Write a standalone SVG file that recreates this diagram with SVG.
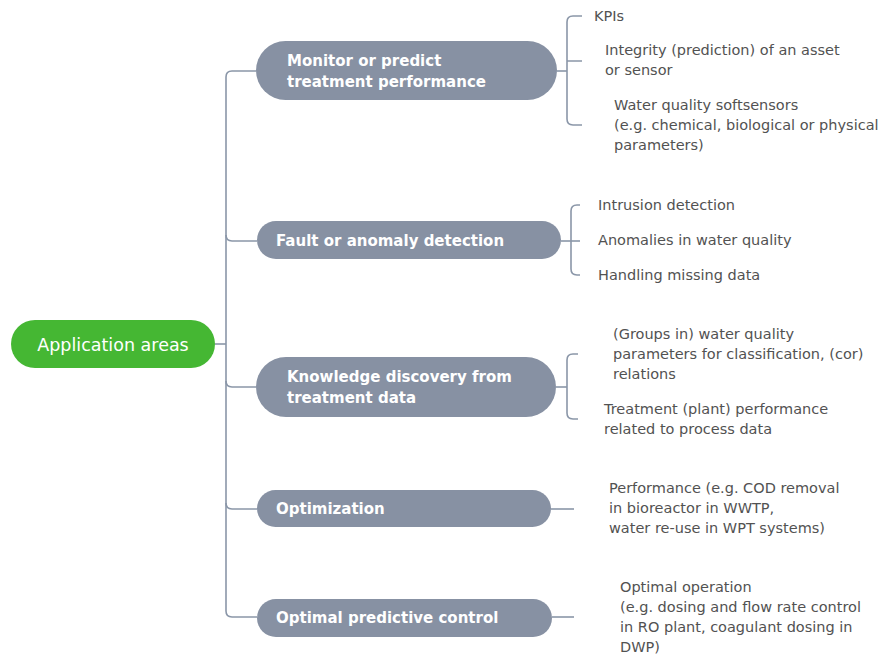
<svg xmlns="http://www.w3.org/2000/svg" width="881" height="657" viewBox="0 0 881 657">
<style>
.ln{fill:none;stroke:#8a96a8;stroke-width:1.6}
.br{fill:#8791a3}
.bt{font-family:"DejaVu Sans",Verdana,sans-serif;font-weight:bold;font-size:15px;fill:#fff}
.lt{font-family:"DejaVu Sans",Verdana,sans-serif;font-size:14.5px;fill:#525252}
</style>
<rect width="881" height="657" fill="#fff"/>
<g id="connectors">
<path class="ln" d="M256 71 H232 Q226 71 226 77 V611 Q226 617 232 617 H257"/>
<path class="ln" d="M226 235 Q226 241 232 241 H257"/>
<path class="ln" d="M226 381 Q226 387 232 387 H256"/>
<path class="ln" d="M226 503 Q226 509 232 509 H257"/>
<path class="ln" d="M215 344 H226"/>
<path class="ln" d="M557 71 H567"/>
<path class="ln" d="M582 16 H573 Q567 16 567 22 V119 Q567 125 573 125 H582 M567 61 H582"/>
<path class="ln" d="M561 241 H580"/>
<path class="ln" d="M580 205 H577 Q571 205 571 211 V269 Q571 275 577 275 H580"/>
<path class="ln" d="M556 387 H567"/>
<path class="ln" d="M578 354 H573 Q567 354 567 360 V413 Q567 419 573 419 H578"/>
<path class="ln" d="M551 509 H574"/>
<path class="ln" d="M552 617 H574"/>
</g>
<g id="root">
<rect x="11" y="320" width="204" height="48" rx="24" fill="#45b733"/>
<text x="113" y="351" text-anchor="middle" font-family="DejaVu Sans,Verdana,sans-serif" font-size="17.5" fill="#fff">Application areas</text>
</g>
<g id="n1">
<rect class="br" x="256" y="41" width="301" height="59" rx="29.5"/>
<text class="bt" x="287" y="66">Monitor or predict</text>
<text class="bt" x="287" y="87">treatment performance</text>
</g>
<g id="n2">
<rect class="br" x="257" y="221" width="304" height="38" rx="19"/>
<text class="bt" x="276" y="246">Fault or anomaly detection</text>
</g>
<g id="n3">
<rect class="br" x="256" y="357" width="300" height="60" rx="30"/>
<text class="bt" x="287" y="382">Knowledge discovery from</text>
<text class="bt" x="287" y="403">treatment data</text>
</g>
<g id="n4">
<rect class="br" x="257" y="490" width="294" height="37" rx="18.5"/>
<text class="bt" x="276" y="514">Optimization</text>
</g>
<g id="n5">
<rect class="br" x="257" y="599" width="295" height="38" rx="19"/>
<text class="bt" x="276" y="623">Optimal predictive control</text>
</g>
<g id="l1"><text class="lt" x="594" y="21">KPIs</text></g>
<g id="l2"><text class="lt" x="605" y="55">Integrity (prediction) of an asset</text><text class="lt" x="605" y="75">or sensor</text></g>
<g id="l3"><text class="lt" x="614" y="110">Water quality softsensors</text><text class="lt" x="614" y="130">(e.g. chemical, biological or physical</text><text class="lt" x="614" y="150">parameters)</text></g>
<g id="l4"><text class="lt" x="598" y="210">Intrusion detection</text></g>
<g id="l5"><text class="lt" x="598" y="245">Anomalies in water quality</text></g>
<g id="l6"><text class="lt" x="598" y="280">Handling missing data</text></g>
<g id="l7"><text class="lt" x="613" y="339">(Groups in) water quality</text><text class="lt" x="613" y="359">parameters for classification, (cor)</text><text class="lt" x="613" y="379">relations</text></g>
<g id="l8"><text class="lt" x="604" y="414">Treatment (plant) performance</text><text class="lt" x="604" y="434">related to process data</text></g>
<g id="l9"><text class="lt" x="609" y="493">Performance (e.g. COD removal</text><text class="lt" x="609" y="513">in bioreactor in WWTP,</text><text class="lt" x="609" y="533">water re-use in WPT systems)</text></g>
<g id="l10"><text class="lt" x="620" y="592">Optimal operation</text><text class="lt" x="620" y="612">(e.g. dosing and flow rate control</text><text class="lt" x="620" y="632">in RO plant, coagulant dosing in</text><text class="lt" x="620" y="652">DWP)</text></g>
</svg>
